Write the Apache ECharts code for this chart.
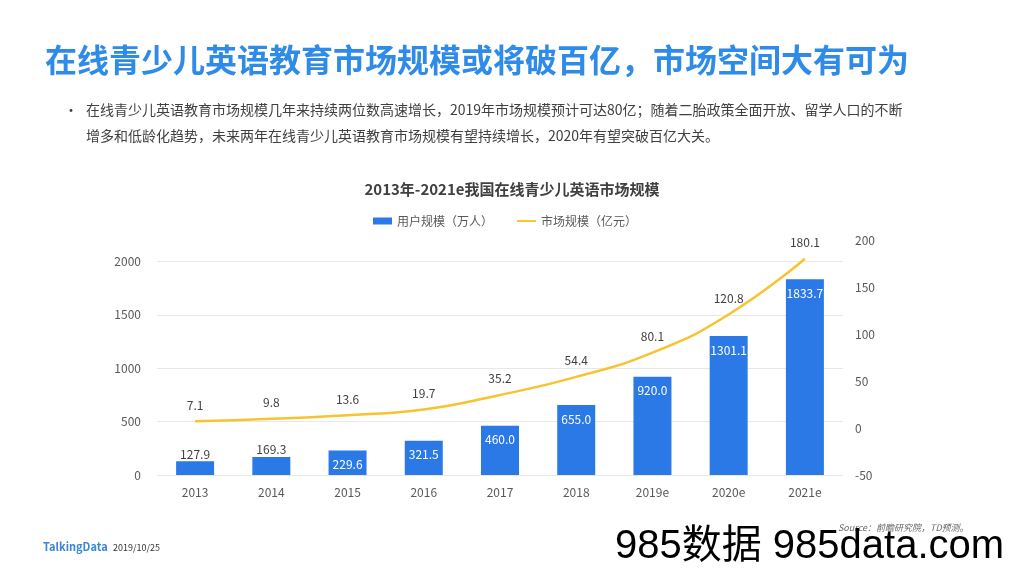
<!DOCTYPE html>
<html><head><meta charset="utf-8">
<script src="https://cdn.jsdelivr.net/npm/echarts@6/dist/echarts.min.js"></script>
<style>html,body{margin:0;padding:0;background:#fff}#c{width:1024px;height:576px}</style>
</head><body><div id="c"></div>
<script>
const categories = ['2013','2014','2015','2016','2017','2018','2019e','2020e','2021e'];
const users = [127.9,169.3,229.6,321.5,460.0,655.0,920.0,1301.1,1833.7];
const market = [7.1,9.8,13.6,19.7,35.2,54.4,80.1,120.8,180.1];
const seriesNames = ['用户规模（万人）','市场规模（亿元）'];
const pageTitle = '在线青少儿英语教育市场规模或将破百亿，市场空间大有可为';
const bulletLines = ['在线青少儿英语教育市场规模几年来持续两位数高速增长，2019年市场规模预计可达80亿；随着二胎政策全面开放、留学人口的不断','增多和低龄化趋势，未来两年在线青少儿英语教育市场规模有望持续增长，2020年有望突破百亿大关。'];
const chartTitle = '2013年-2021e我国在线青少儿英语市场规模';
const sourceText = 'Source：前瞻研究院，TD预测。';
const FONT = '"Noto Sans CJK SC","Noto Sans",sans-serif';

const chart = echarts.init(document.getElementById('c'));
const barData = users.map((v,i)=>({
  value: v,
  label: v < 200 ? {position:'top', distance:1, color:'#404040'} : {position:'insideTop', distance:8, color:'#ffffff'}
}));
chart.setOption({
  animation:false,
  textStyle:{fontFamily:FONT},
  graphic:[
    {type:'text', left:45, top:44, style:{text:pageTitle, font:'bold 32px '+FONT, fill:'#2e8be8'}},
    {type:'text', left:64, top:103, style:{text:'•', font:'14px '+FONT, fill:'#404040'}},
    {type:'text', left:86, top:103, style:{text:bulletLines[0], font:'14px '+FONT, fill:'#404040'}},
    {type:'text', left:86, top:129, style:{text:bulletLines[1], font:'14px '+FONT, fill:'#404040'}},
    {type:'text', left:43, top:541, style:{text:'TalkingData', font:'bold 11px '+FONT, fill:'#3a86d8'}},
    {type:'text', left:113, top:543, style:{text:'2019/10/25', font:'9px '+FONT, fill:'#333'}},
    {type:'text', left:838, top:523, style:{text:sourceText, font:'italic 9px '+FONT, fill:'#666'}},
    {type:'text', left:615, top:527, style:{text:'985数据 985data.com', font:'40px "Liberation Sans",'+FONT, fill:'#000'}}
  ],
  title:{text:chartTitle, left:'center', top:177, textStyle:{fontSize:15, fontWeight:'bold', color:'#404040', fontFamily:FONT}},
  legend:{left:368, top:210, itemWidth:19, itemHeight:7, itemGap:24, textStyle:{fontSize:12, color:'#595959'},
    data:[{name:seriesNames[0], icon:'rect'}, {name:seriesNames[1], icon:'path://M0,0 L20,0 L20,2 L0,2 Z'}]},
  grid:{left:157, right:181, top:240, bottom:101},
  xAxis:{type:'category', data:categories, axisLine:{show:false}, axisTick:{show:false},
    axisLabel:{color:'#595959', fontSize:12, margin:11}},
  yAxis:[
    {type:'value', min:0, max:2200, interval:500, axisLabel:{color:'#595959', fontSize:12, margin:16, showMaxLabel:false, formatter:v=>String(v)},
     splitLine:{show:true, showMaxLine:false, lineStyle:{color:'#e8e8e8'}}, axisLine:{show:false}, axisTick:{show:false}},
    {type:'value', min:-50, max:200, interval:50, axisLabel:{color:'#595959', fontSize:12, margin:12, formatter:v=>String(v)},
     splitLine:{show:false}, axisLine:{show:false}, axisTick:{show:false}}
  ],
  series:[
    {name:seriesNames[0], type:'bar', yAxisIndex:0, data:barData, barWidth:38, itemStyle:{color:'#2b79e6'},
     label:{show:true, fontSize:12, fontFamily:FONT, formatter:p=>Number(p.value).toFixed(1)}},
    {name:seriesNames[1], type:'line', yAxisIndex:1, data:market, smooth:true, symbol:'circle', symbolSize:0.1, showSymbol:true,
     lineStyle:{color:'#f7c331', width:2.5}, itemStyle:{color:'#f7c331'},
     label:{show:true, position:'top', distance:10, color:'#404040', fontSize:12, formatter:p=>Number(p.value).toFixed(1)}}
  ]
});
</script></body></html>
